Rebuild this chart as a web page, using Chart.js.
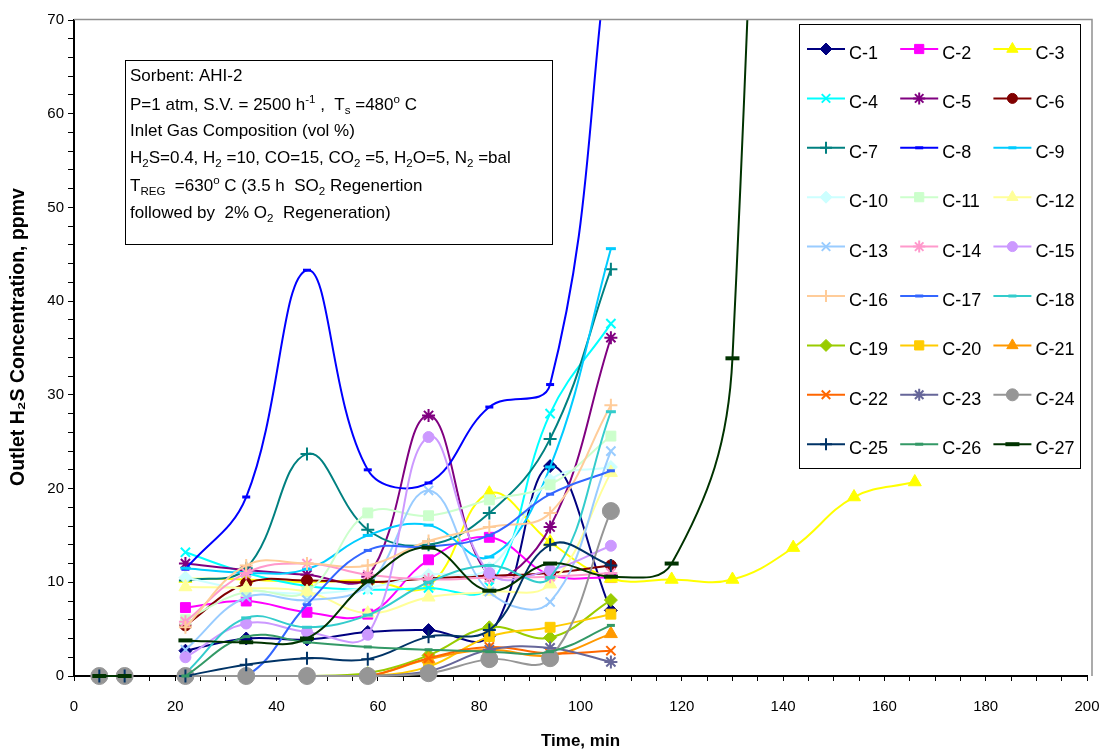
<!DOCTYPE html>
<html>
<head>
<meta charset="utf-8">
<script src="https://cdn.jsdelivr.net/npm/chart.js@4.4.1/dist/chart.umd.min.js"></script>
<style>
html,body{margin:0;padding:0;background:#fff;}
#wrap{position:relative;width:1109px;height:753px;}
canvas{display:block;}
</style>
</head>
<body>
<div id="wrap"><canvas id="c" width="1109" height="753"></canvas></div>
<script>
// ---- data ----
const time = [5, 10, 16, 22, 34, 46, 58, 70, 82, 94, 106, 118, 130, 142, 154, 166];
const xTickLabels = [0, 20, 40, 60, 80, 100, 120, 140, 160, 180, 200];
const yTickLabels = [0, 10, 20, 30, 40, 50, 60, 70];
const seriesNames = ['C-1','C-2','C-3','C-4','C-5','C-6','C-7','C-8','C-9','C-10','C-11','C-12','C-13','C-14','C-15','C-16','C-17','C-18','C-19','C-20','C-21','C-22','C-23','C-24','C-25','C-26','C-27'];
const c1  = [null, null, null, 2.7, 4.0, 3.9, 4.7, 4.9, 4.3, 22.4, 7.0];
const c2  = [null, null, null, 7.3, 8.0, 6.8, 6.6, 12.4, 14.8, 10.8, 10.5];
const c3  = [0, 0, null, 10.4, 10.3, 10.0, 10.2, 9.6, 19.5, 14.3, 10.4, 10.3, 10.3, 13.7, 19.1, 20.7];
const c4  = [null, null, null, 13.2, 11.0, 9.6, 9.2, 9.4, 9.5, 28.0, 37.6];
const c5  = [null, null, null, 12.0, 11.3, 10.8, 10.6, 27.8, 10.8, 15.9, 36.1];
const c6  = [null, null, null, 5.4, 9.9, 10.2, 10.0, 10.4, 10.7, 11.0, 11.8];
const c7  = [null, null, null, 10.2, 11.5, 23.7, 15.6, 14.0, 17.4, 25.3, 43.4];
const c8  = [null, null, null, 11.4, 19.1, 43.3, 22.0, 20.6, 28.7, 31.1, 80];
const c9  = [null, null, null, 11.5, 11.0, 11.4, 15.0, 16.1, 12.7, 22.3, 45.6];
const c10 = [null, null, null, 10.5, 9.2, 8.8, 9.4, 10.8, 11.5, 20.9, 22.3];
const c11 = [null, null, null, 6.0, 9.0, 9.0, 17.4, 17.1, 18.8, 20.4, 25.6];
const c12 = [null, null, null, 9.5, 9.4, 9.0, 6.7, 8.4, 9.0, 9.8, 21.7];
const c13 = [null, null, null, 2.8, 8.4, 8.1, 9.7, 19.8, 9.0, 7.9, 24.0];
const c14 = [null, null, null, 5.8, 11.0, 12.0, 10.8, 10.3, 10.5, 10.6, 11.0];
const c15 = [null, null, null, 2.0, 5.6, 4.7, 4.4, 25.5, 11.0, 11.3, 13.9];
const c16 = [null, null, null, 5.2, 11.8, 12.0, 11.8, 14.4, 15.9, 17.4, 28.9];
const c17 = [null, null, null, 0, 0, 7.6, 13.4, 13.8, 15.0, 19.4, 21.9];
const c18 = [null, null, null, 0.3, 6.2, 5.2, 6.5, 10.0, 11.8, 10.5, 28.2];
const c19 = [null, null, null, 0, 0, 0, 0.3, 2.2, 5.2, 4.1, 8.1];
const c20 = [null, null, null, 0, 0, 0, 0, 1.0, 4.2, 5.2, 6.6];
const c21 = [null, null, null, 0, 0, 0, 0, 1.8, 2.8, 2.2, 4.5];
const c22 = [null, null, null, 0, 0, 0, 0, 1.9, 3.1, 2.4, 2.7];
const c23 = [null, null, null, 0, 0, 0, 0, 0.5, 2.8, 3.0, 1.5];
const c24 = [0, 0, null, 0, 0, 0, 0, 0.3, 1.8, 1.9, 17.6];
const c25 = [0, 0, null, 0, 1.2, 1.9, 1.8, 4.2, 4.9, 14.0, 11.8];
const c26 = [null, null, null, 0, 4.2, 3.6, 3.1, 2.8, 2.6, 2.6, 5.4];
const c27 = [0, 0, null, 3.8, 3.6, 4.0, 10.1, 13.7, 9.1, 12.0, 10.6, 12.0, 33.9, 280];
const seriesValues = [c1,c2,c3,c4,c5,c6,c7,c8,c9,c10,c11,c12,c13,c14,c15,c16,c17,c18,c19,c20,c21,c22,c23,c24,c25,c26,c27];

// ---- styles ----
const colors = ['#000080','#FF00FF','#FFFF00','#00FFFF','#800080','#800000','#008080','#0000FF','#00CCFF','#CCFFFF','#CCFFCC','#FFFF99','#99CCFF','#FF99CC','#CC99FF','#FFCC99','#3366FF','#33CCCC','#99CC00','#FFCC00','#FF9900','#FF6600','#666699','#969696','#003366','#339966','#003300'];
const styles = ['rectRot','rect','triangle','crossRot','star','circle','cross','line','line'];
function markerFor(i){
  const s = styles[i % 9];
  const m = {pointStyle: s, radius: 5, bw: 1, lr: 5};
  if (s === 'rectRot') { m.radius = 6.5; m.lr = 6; }
  if (s === 'rect') { m.radius = 7; m.lr = 6.5; }
  if (s === 'triangle') { m.radius = 7.5; m.lr = 6.5; }
  if (s === 'crossRot' || s === 'star' || s === 'cross') { m.radius = 6.5; m.bw = 2; m.lr = 6; }
  if (s === 'circle') { m.radius = 5.5; m.lr = 5; }
  if (s === 'line') { m.radius = 4; m.bw = 3; m.lr = 4; }
  if (i === 23) { m.radius = 8.5; m.lr = 6; }
  if (i === 26) { m.radius = 7; m.bw = 4; m.lr = 7; }
  if (i === 8 || i === 17) { m.radius = 5; }
  return m;
}

const datasets = seriesNames.map((name, i) => {
  const m = markerFor(i);
  const vals = seriesValues[i];
  const pts = [];
  let first = -1, last = -1;
  vals.forEach((v, k) => { if (v !== null && v !== undefined) { if (first < 0) first = k; last = k; } });
  for (let k = first; k <= last; k++) {
    pts.push({x: time[k], y: (vals[k] === undefined ? null : vals[k])});
  }
  return {
    label: name,
    data: pts,
    borderColor: colors[i],
    backgroundColor: colors[i],
    borderWidth: 2,
    tension: 0.4,
    spanGaps: false,
    pointStyle: m.pointStyle,
    pointRadius: m.radius,
    pointBorderWidth: m.bw,
    pointBackgroundColor: colors[i],
    pointBorderColor: colors[i],
    order: 100 - i,
    clip: {left: 12, right: 12, top: 0, bottom: 12}
  };
});

const FONT = "'Liberation Sans', Arial, sans-serif";

function drawRich(ctx, x, y, parts, size) {
  ctx.textBaseline = 'alphabetic';
  ctx.textAlign = 'left';
  for (const p of parts) {
    let fs = size, dy = 0;
    if (p.sub) { fs = size * 0.68; dy = size * 0.22; }
    if (p.sup) { fs = size * 0.68; dy = -size * 0.42; }
    ctx.font = fs + 'px ' + FONT;
    ctx.fillText(p.t, x, y + dy);
    x += ctx.measureText(p.t).width;
  }
}

const annotLines = [
  [{t:'Sorbent: AHI-2'}],
  [{t:'P=1 atm, S.V. = 2500 h'},{t:'-1',sup:1},{t:' ,  T'},{t:'s',sub:1},{t:' =480'},{t:'o',sup:1},{t:' C'}],
  [{t:'Inlet Gas Composition (vol %)'}],
  [{t:'H'},{t:'2',sub:1},{t:'S=0.4, H'},{t:'2',sub:1},{t:' =10, CO=15, CO'},{t:'2',sub:1},{t:' =5, H'},{t:'2',sub:1},{t:'O=5, N'},{t:'2',sub:1},{t:' =bal'}],
  [{t:'T'},{t:'REG',sub:1},{t:'  =630'},{t:'o',sup:1},{t:' C (3.5 h  SO'},{t:'2',sub:1},{t:' Regenertion'}],
  [{t:'followed by  2% O'},{t:'2',sub:1},{t:'  Regeneration)'}]
];
const annotBaselines = [81, 110, 136, 163, 191, 218];
const yTitle = 'Outlet H\u2082S Concentration, ppmv';

const overlay = {
  id: 'overlay',
  afterDraw(chart) {
    const ctx = chart.ctx;
    const ca = chart.chartArea;
    ctx.save();
    // plot border (top/right)
    ctx.strokeStyle = '#909090';
    ctx.lineWidth = 1.5;
    ctx.beginPath();
    ctx.moveTo(ca.left, ca.top - 0.5);
    ctx.lineTo(ca.right + 5, ca.top - 0.5);
    ctx.lineTo(ca.right + 5, ca.bottom);
    ctx.stroke();

    // y axis title
    ctx.save();
    ctx.translate(19, 337);
    ctx.rotate(-Math.PI / 2);
    ctx.fillStyle = '#000';
    ctx.font = 'bold 19.5px ' + FONT;
    ctx.textAlign = 'center';
    ctx.textBaseline = 'middle';
    ctx.fillText(yTitle, 0, 0);
    ctx.restore();

    // annotation box
    ctx.fillStyle = '#fff';
    ctx.fillRect(125, 60, 427, 184);
    ctx.strokeStyle = '#000';
    ctx.lineWidth = 1;
    ctx.strokeRect(125.5, 60.5, 427, 184);
    ctx.fillStyle = '#000';
    annotLines.forEach((ln, k) => drawRich(ctx, 130, annotBaselines[k], ln, 17));

    // legend box
    ctx.fillStyle = '#fff';
    ctx.fillRect(799, 24, 281, 444);
    ctx.strokeStyle = '#000';
    ctx.lineWidth = 1;
    ctx.strokeRect(799.5, 24.5, 281, 444);
    seriesNames.forEach((name, i) => {
      const col = i % 3, row = Math.floor(i / 3);
      const x0 = 807 + col * 93.2;
      const y = 49 + row * 49.4;
      const m = markerFor(i);
      ctx.strokeStyle = colors[i];
      ctx.lineWidth = 2;
      ctx.beginPath();
      ctx.moveTo(x0, y);
      ctx.lineTo(x0 + 38, y);
      ctx.stroke();
      ctx.fillStyle = colors[i];
      ctx.strokeStyle = colors[i];
      ctx.lineWidth = m.bw;
      Chart.helpers.drawPoint(ctx, {pointStyle: m.pointStyle, radius: m.lr, borderWidth: m.bw, rotation: 0}, x0 + 19, y);
      ctx.fillStyle = '#000';
      ctx.font = '18px ' + FONT;
      ctx.textBaseline = 'middle';
      ctx.textAlign = 'left';
      ctx.fillText(name, x0 + 42, y + 5);
    });
    ctx.restore();
  }
};

new Chart(document.getElementById('c'), {
  type: 'line',
  data: {datasets},
  plugins: [overlay],
  options: {
    responsive: false,
    animation: false,
    devicePixelRatio: 1,
    layout: {padding: {top: 20, right: 22, left: 0, bottom: 0}},
    plugins: {legend: {display: false}, tooltip: {enabled: false}},
    scales: {
      x: {
        type: 'linear', min: 0, max: 200,
        afterBuildTicks: s => { const t = []; for (let v = 0; v <= 200; v += 5) t.push({value: v}); s.ticks = t; },
        ticks: {autoSkip: false, maxRotation: 0, padding: 17, color: '#000',
          font: {family: FONT, size: 15},
          callback: v => xTickLabels.includes(v) ? String(v) : ''},
        grid: {drawOnChartArea: false, tickLength: 5, color: '#000', tickWidth: 1},
        border: {color: '#000', width: 2},
        title: {display: true, text: 'Time, min', color: '#000', font: {family: FONT, size: 17, weight: 'bold'}, padding: {top: 0, bottom: 1}},
        afterFit: s => { s.height = 77; s.paddingLeft = 0; s.paddingRight = 0; }
      },
      y: {
        type: 'linear', min: 0, max: 70,
        afterBuildTicks: s => { const t = []; for (let v = 0; v <= 70; v += 2) t.push({value: v}); s.ticks = t; },
        ticks: {autoSkip: false, padding: 4, color: '#000',
          font: {family: FONT, size: 15},
          callback: v => yTickLabels.includes(v) ? String(v) : ''},
        grid: {drawOnChartArea: false, tickLength: 6, color: '#000', tickWidth: 1},
        border: {color: '#000', width: 2},
        title: {display: false},
        afterFit: s => { s.width = 74; s.paddingTop = 0; s.paddingBottom = 0; }
      }
    }
  }
});
</script>
</body>
</html>
